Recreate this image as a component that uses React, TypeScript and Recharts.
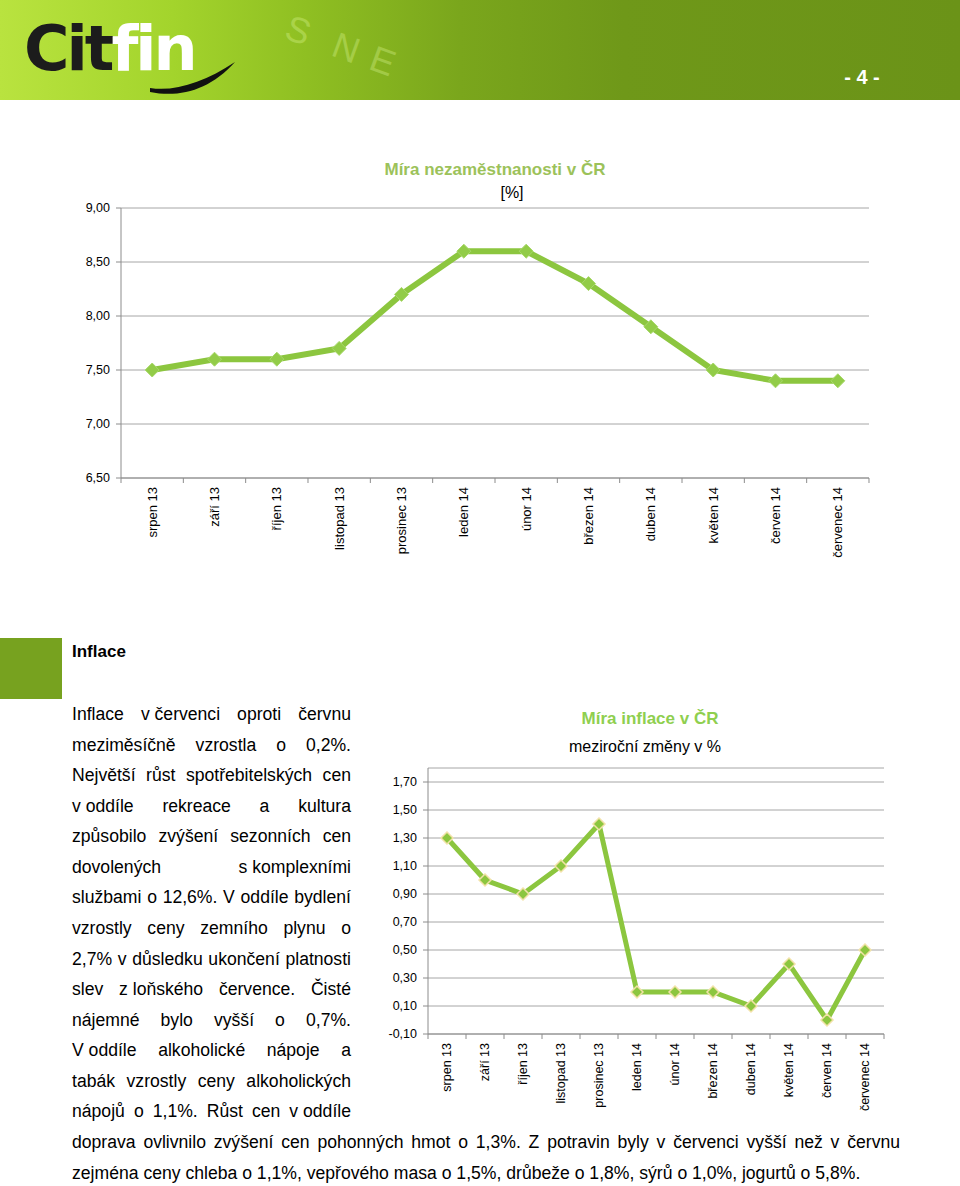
import React from "react";
import { LineChart, Line, XAxis, YAxis, CartesianGrid } from "recharts";

// ---- Data ----
const months = [
  "srpen 13", "září 13", "říjen 13", "listopad 13", "prosinec 13", "leden 14",
  "únor 14", "březen 14", "duben 14", "květen 14", "červen 14", "červenec 14",
];
const unemploymentValues = [7.5, 7.6, 7.6, 7.7, 8.2, 8.6, 8.6, 8.3, 7.9, 7.5, 7.4, 7.4];
const inflationValues = [1.3, 1.0, 0.9, 1.1, 1.4, 0.2, 0.2, 0.2, 0.1, 0.4, 0.0, 0.5];
const unemploymentTicks = [6.5, 7.0, 7.5, 8.0, 8.5, 9.0];
const inflationTicks = [-0.1, 0.1, 0.3, 0.5, 0.7, 0.9, 1.1, 1.3, 1.5, 1.7];

const unemploymentData = months.map((m, i) => ({ month: m, value: unemploymentValues[i] }));
const inflationData = months.map((m, i) => ({ month: m, value: inflationValues[i] }));

// each line is a list of "words"; a word may contain a tight (non-stretching) space
const paragraphLines: string[][] = [
  ["Inflace", "v červenci", "oproti", "červnu"],
  ["meziměsíčně", "vzrostla", "o", "0,2%."],
  ["Největší", "růst", "spotřebitelských", "cen"],
  ["v oddíle", "rekreace", "a", "kultura"],
  ["způsobilo", "zvýšení", "sezonních", "cen"],
  ["dovolených", "s komplexními"],
  ["službami", "o", "12,6%.", "V", "oddíle", "bydlení"],
  ["vzrostly", "ceny", "zemního", "plynu", "o"],
  ["2,7%", "v", "důsledku", "ukončení", "platnosti"],
  ["slev", "z loňského", "července.", "Čisté"],
  ["nájemné", "bylo", "vyšší", "o", "0,7%."],
  ["V oddíle", "alkoholické", "nápoje", "a"],
  ["tabák", "vzrostly", "ceny", "alkoholických"],
  ["nápojů", "o", "1,1%.", "Růst", "cen", "v oddíle"],
];
const wideLines = [
  "doprava ovlivnilo zvýšení cen pohonných hmot o 1,3%. Z potravin byly v červenci vyšší než v červnu",
  "zejména ceny chleba o 1,1%, vepřového masa o 1,5%, drůbeže o 1,8%, sýrů o 1,0%, jogurtů o 5,8%.",
];

const FONT = "Arial, 'Liberation Sans', sans-serif";
const fmt = (v: number) => v.toFixed(2).replace(".", ",");

const Diamond = (props: any) => {
  const { cx, cy, r, fill, stroke, sw } = props;
  if (cx == null || cy == null) return null;
  return (
    <path
      d={`M${cx},${cy - r} L${cx + r},${cy} L${cx},${cy + r} L${cx - r},${cy} Z`}
      fill={fill}
      stroke={stroke}
      strokeWidth={sw}
    />
  );
};

const makeXTick = (band: number, fontSize: number, offset: number, count: number) => (props: any) => {
  const { x, y, payload, index } = props;
  return (
    <g transform={`translate(${x},${y})`}>
      <line x1={-band / 2} x2={-band / 2} y1={-8} y2={-3} stroke="#8c8c8c" />
      {index === count - 1 && <line x1={band / 2} x2={band / 2} y1={-8} y2={-3} stroke="#8c8c8c" />}
      <text
        transform="rotate(-90)"
        x={-offset}
        y={0}
        dy="0.35em"
        textAnchor="end"
        fontSize={fontSize}
        fontFamily={FONT}
        fill="#000"
      >
        {payload.value}
      </text>
    </g>
  );
};

const LINE_H = 30.57;
const PARA_FS = 17.6;

export default function App() {
  const band1 = 748 / 12;
  const band2 = 456 / 12;
  return (
    <div
      style={{
        position: "absolute",
        left: 0,
        top: 0,
        width: 960,
        height: 1186,
        background: "#fff",
        fontFamily: FONT,
        overflow: "hidden",
      }}
    >
      {/* Header banner */}
      <div
        style={{
          position: "absolute",
          left: 0,
          top: 0,
          width: 960,
          height: 100,
          background:
            "linear-gradient(90deg, #b9e33f 0%, #a3d42c 18%, #8fbf22 32%, #7aa61c 48%, #6f9819 65%, #6b9318 100%)",
          overflow: "hidden",
        }}
      >
        <svg width={960} height={100} style={{ position: "absolute", left: 0, top: 0 }}>
          <g transform="translate(295,4) rotate(20)" opacity={0.3}>
            <text x={0} y={36} fontSize={36} fontFamily={FONT} fill="#e6ffa0">S</text>
            <text x={50} y={36} fontSize={36} fontFamily={FONT} fill="#e6ffa0">N</text>
            <text x={90} y={36} fontSize={36} fontFamily={FONT} fill="#e6ffa0">E</text>
          </g>
          <text x={24} y={70} fontSize={62} fontWeight="bold" fontFamily="'DejaVu Sans', Arial, sans-serif" fill="#1c1c1c" letterSpacing={-3}>
            Cit
            <tspan fill="#ffffff">fin</tspan>
          </text>
          <path d="M150,88 C175,92 205,82 235,62 C210,90 180,98 150,92 Z" fill="#111" />
        </svg>
        <div
          style={{
            position: "absolute",
            left: 820,
            top: 66,
            width: 84,
            textAlign: "center",
            color: "#fff",
            fontSize: 20,
            fontWeight: "bold",
          }}
        >
          - 4 -
        </div>
      </div>

      {/* Chart 1 titles */}
      <div
        style={{
          position: "absolute",
          left: 295,
          width: 400,
          top: 160,
          textAlign: "center",
          color: "#9cc25a",
          fontWeight: "bold",
          fontSize: 17,
        }}
      >
        Míra nezaměstnanosti v ČR
      </div>
      <div
        style={{
          position: "absolute",
          left: 412,
          width: 200,
          top: 184,
          textAlign: "center",
          color: "#000",
          fontSize: 16,
        }}
      >
        [%]
      </div>

      {/* Chart 1 */}
      <div style={{ position: "absolute", left: 0, top: 150 }}>
        <LineChart
          width={900}
          height={430}
          data={unemploymentData}
          margin={{ top: 58, right: 31, left: 0, bottom: 0 }}
        >
          <CartesianGrid vertical={false} stroke="#a6a6a6" />
          <XAxis
            dataKey="month"
            interval={0}
            height={102}
            stroke="#8c8c8c"
            tickLine={false}
            padding={{ left: band1 / 2, right: band1 / 2 }}
            tick={makeXTick(band1, 13, 1, months.length)}
          />
          <YAxis
            width={121}
            domain={[6.5, 9]}
            ticks={unemploymentTicks}
            tickFormatter={fmt}
            stroke="#8c8c8c"
            tickSize={5}
            tickMargin={6}
            tick={{ fontSize: 12.5, fill: "#000", fontFamily: FONT }}
          />
          <Line
            type="linear"
            dataKey="value"
            stroke="#8cc63f"
            strokeWidth={6}
            isAnimationActive={false}
            dot={<Diamond r={7} fill="#92cc48" stroke="#a8d86a" sw={1} />}
            activeDot={false}
          />
        </LineChart>
      </div>

      {/* Inflace heading */}
      <div style={{ position: "absolute", left: 0, top: 638, width: 62, height: 61, background: "#77a21f" }} />
      <div style={{ position: "absolute", left: 72, top: 642, fontSize: 17, fontWeight: "bold", color: "#000" }}>
        Inflace
      </div>

      {/* Paragraph */}
      <div style={{ position: "absolute", left: 72, top: 699, width: 279 }}>
        {paragraphLines.map((words, i) => (
          <div
            key={i}
            style={{
              height: LINE_H,
              lineHeight: `${LINE_H}px`,
              fontSize: PARA_FS,
              color: "#000",
              display: "flex",
              justifyContent: "space-between",
              whiteSpace: "nowrap",
            }}
          >
            {words.map((w, j) => (
              <span key={j}>{w}</span>
            ))}
          </div>
        ))}
      </div>
      <div style={{ position: "absolute", left: 72, top: 699 + 14 * LINE_H, width: 828 }}>
        {wideLines.map((line, i) => (
          <div
            key={i}
            style={{
              height: LINE_H,
              lineHeight: `${LINE_H}px`,
              fontSize: PARA_FS,
              color: "#000",
              textAlign: "justify",
              textAlignLast: i === 0 ? "justify" : "left",
              whiteSpace: "nowrap",
            }}
          >
            {line}
          </div>
        ))}
      </div>

      {/* Chart 2 titles */}
      <div
        style={{
          position: "absolute",
          left: 500,
          width: 300,
          top: 709,
          textAlign: "center",
          color: "#8fcf4f",
          fontWeight: "bold",
          fontSize: 17,
        }}
      >
        Míra inflace v ČR
      </div>
      <div
        style={{
          position: "absolute",
          left: 495,
          width: 300,
          top: 738,
          textAlign: "center",
          color: "#000",
          fontSize: 16,
        }}
      >
        meziroční změny v %
      </div>

      {/* Chart 2 */}
      <div style={{ position: "absolute", left: 360, top: 760 }}>
        <LineChart
          width={540}
          height={370}
          data={inflationData}
          margin={{ top: 8, right: 16, left: 0, bottom: 0 }}
        >
          <CartesianGrid vertical={false} stroke="#a6a6a6" />
          <XAxis
            dataKey="month"
            interval={0}
            height={96}
            stroke="#8c8c8c"
            tickLine={false}
            padding={{ left: band2 / 2, right: band2 / 2 }}
            tick={makeXTick(band2, 12.5, 1, months.length)}
          />
          <YAxis
            width={68}
            domain={[-0.1, 1.8]}
            ticks={inflationTicks}
            tickFormatter={fmt}
            stroke="#8c8c8c"
            tickSize={5}
            tickMargin={6}
            tick={{ fontSize: 12.5, fill: "#000", fontFamily: FONT }}
          />
          <Line
            type="linear"
            dataKey="value"
            stroke="#8cc63f"
            strokeWidth={5}
            isAnimationActive={false}
            dot={<Diamond r={6} fill="#8cc63f" stroke="#f2e2a8" sw={1.5} />}
            activeDot={false}
          />
        </LineChart>
      </div>
    </div>
  );
}
